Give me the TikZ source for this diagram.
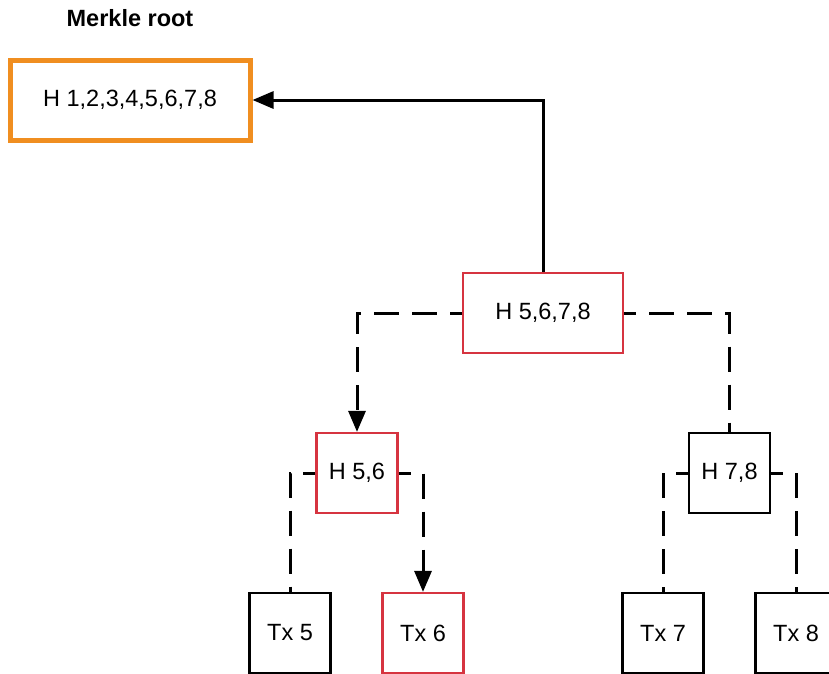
\documentclass[tikz,border=0pt]{standalone}
\usepackage{fontspec}
\setmainfont{Liberation Sans}
\usetikzlibrary{arrows.meta}

\definecolor{rootorange}{RGB}{240,142,32}
\definecolor{pathred}{RGB}{214,52,64}

\tikzset{
  hashbox/.style={draw=black, line width=2.6pt, minimum width=81pt, minimum height=80pt, inner sep=0pt},
  onpath/.style={draw=pathred, line width=2.2pt},
  link/.style={line width=3pt, dash pattern=on 25pt off 13pt, dash phase=13pt},
  tip/.style={-{Triangle[length=21pt,width=17pt]}}
}

\begin{document}
\begin{tikzpicture}[x=1pt, y=-1pt, every node/.style={font=\fontsize{23.5}{28}\selectfont}]
  \useasboundingbox (0,0) rectangle (829,673);
  \clip (0,0) rectangle (829,673);

  % root
  \node[font=\fontsize{23.5}{28}\selectfont\bfseries] (title) at (130,18) {Merkle root};
  \node[hashbox, draw=rootorange, line width=5pt, minimum width=240pt] (root) at (130,100) {H 1,2,3,4,5,6,7,8};

  % hashes
  \node[hashbox, onpath, minimum width=160pt] (h5678) at (543,313) {H 5,6,7,8};
  \node[hashbox, onpath] (h56) at (357,473) {H 5,6};
  \node[hashbox] (h78) at (729.5,473) {H 7,8};

  % transactions
  \node[hashbox] (tx5) at (290,633) {Tx 5};
  \node[hashbox, onpath] (tx6) at (423,633) {Tx 6};
  \node[hashbox] (tx7) at (663,633) {Tx 7};
  \node[hashbox] (tx8) at (796,633) {Tx 8};

  % solid path up to the root
  \draw[line width=3pt, tip] (h5678.north) |- (root.east);

  % dashed links
  \draw[link, tip] (h5678.west) -| (h56.north);
  \draw[link] (h5678.east) -| (h78.north);
  \draw[link] (h56.west) -| (tx5.north);
  \draw[link, tip] (h56.east) -| (tx6.north);
  \draw[link] (h78.west) -| (tx7.north);
  \draw[link] (h78.east) -| (tx8.north);
\end{tikzpicture}
\end{document}
